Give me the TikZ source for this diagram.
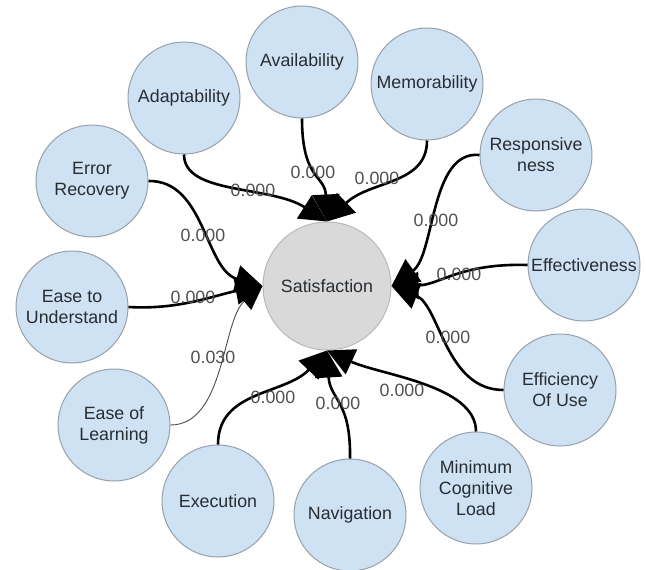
\documentclass[tikz,border=0pt]{standalone}
\usepackage{fontspec}
\setmainfont{Liberation Sans}
\usetikzlibrary{arrows.meta}
\definecolor{bfill}{RGB}{207,226,243}
\definecolor{bdraw}{RGB}{150,160,170}
\definecolor{gfill}{RGB}{217,217,217}
\definecolor{gdraw}{RGB}{185,185,185}
\definecolor{ntext}{RGB}{40,45,50}
\definecolor{ltext}{RGB}{80,80,80}
\tikzset{
  outer/.style={circle, fill=bfill, draw=bdraw, line width=1pt, minimum size=112pt, inner sep=0pt},
  center/.style={circle, fill=gfill, draw=gdraw, line width=1pt, minimum size=128pt, inner sep=0pt},
  txt/.style={text=ntext, align=center, font=\fontsize{17.8}{21}\selectfont, inner sep=0pt},
  elab/.style={text=ltext, font=\fontsize{17.8}{21}\selectfont, inner sep=0pt},
  conn/.style={line width=2.6pt, black, -{Triangle[length=27pt,width=27pt]}},
  thinconn/.style={line width=0.9pt, black!70, -{Triangle[length=24pt,width=22pt,color=black]}}
}
\begin{document}
\begin{tikzpicture}[x=1pt,y=-1pt]
\useasboundingbox (0,0) rectangle (646,570);
\node[center, label={[txt]center:Satisfaction}] (sat) at (327,286) {};
\node[outer, label={[txt]center:Availability}] (ava) at (302,62) {};
\node[outer, label={[txt]center:Memorability}] (mem) at (427,84) {};
\node[outer, label={[txt]center:Adaptability}] (ada) at (184,98) {};
\node[outer, label={[txt]center:Responsive\\ness}] (res) at (536,155) {};
\node[outer, label={[txt]center:Error\\Recovery}] (err) at (92,181) {};
\node[outer, label={[txt]center:Effectiveness}] (eff) at (584,265) {};
\node[outer, label={[txt]center:Ease to\\Understand}] (etu) at (72,307) {};
\node[outer, label={[txt]center:Efficiency\\Of Use}] (efu) at (560,390) {};
\node[outer, label={[txt]center:Ease of\\Learning}] (eol) at (114,425) {};
\node[outer, label={[txt]center:Minimum\\Cognitive\\Load}] (mcl) at (476,488) {};
\node[outer, label={[txt]center:Execution}] (exe) at (218,501) {};
\node[outer, label={[txt]center:Navigation}] (nav) at (350,515) {};
% top group
\draw[conn] (ada.south) .. controls (184,195) and (270,185) .. (sat.north);
\draw[conn] (ava.south) .. controls (302,180) and (325,175) .. (sat.north);
\draw[conn] (mem.south) .. controls (427,185) and (370,180) .. (sat.north);
% left group
\draw[thinconn] (eol.east) .. controls (225,425) and (222,320) .. (sat.west);
\draw[conn] (err.east) .. controls (205,180) and (205,270) .. (sat.west);
\draw[conn] (etu.east) .. controls (180,310) and (215,295) .. (sat.west);
% right group
\draw[conn] (res.west) .. controls (430,150) and (435,255) .. (sat.east);
\draw[conn] (eff.west) .. controls (460,263) and (440,285) .. (sat.east);
\draw[conn] (efu.west) .. controls (445,390) and (440,305) .. (sat.east);
% bottom group
\draw[conn] (exe.north) .. controls (218,390) and (285,395) .. (sat.south);
\draw[conn] (nav.north) .. controls (351,400) and (330,400) .. (sat.south);
\draw[conn] (mcl.north) .. controls (476,385) and (380,375) .. (sat.south);
% labels
\node[elab] (l1) at (313,172) {0.000};
\node[elab] (l2) at (253,190) {0.000};
\node[elab] (l3) at (377,178) {0.000};
\node[elab] (l4) at (203,235) {0.000};
\node[elab] (l5) at (193,297) {0.000};
\node[elab] (l6) at (213,357) {0.030};
\node[elab] (l7) at (436,220) {0.000};
\node[elab] (l8) at (459,274) {0.000};
\node[elab] (l9) at (448,337) {0.000};
\node[elab] (l10) at (273,397) {0.000};
\node[elab] (l11) at (338,403) {0.000};
\node[elab] (l12) at (402,390) {0.000};
\end{tikzpicture}
\end{document}
